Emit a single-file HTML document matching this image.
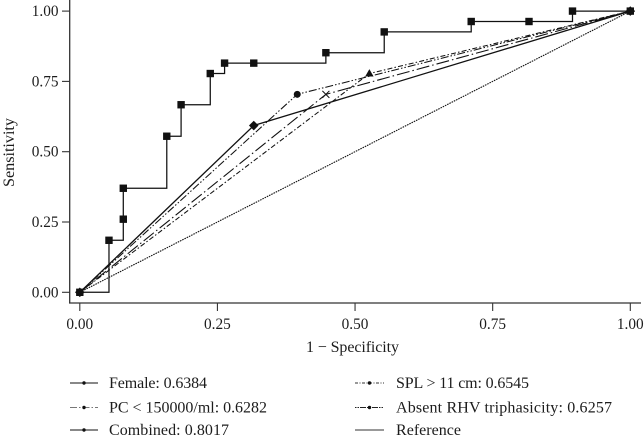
<!DOCTYPE html>
<html>
<head>
<meta charset="utf-8">
<style>
html,body{margin:0;padding:0;background:#fff;}
svg{display:block;}
text{font-family:"Liberation Serif",serif;font-size:15.3px;fill:#1c1c1c;}
</style>
</head>
<body>
<svg id="chart" xmlns="http://www.w3.org/2000/svg" width="644" height="435" viewBox="0 0 644 435">
<rect width="644" height="435" fill="#fff"/>
<g id="axes"></g>
<g id="series"></g>
<text x="14" y="152.5" transform="rotate(-90 14 152.5)" text-anchor="middle" textLength="69" style="font-size:16.2px">Sensitivity</text>
<text x="352.5" y="352" text-anchor="middle" textLength="93" style="font-size:16px">1 − Specificity</text>
<g id="legend"></g>
</svg>
<script>
const tickValues = [0, 0.25, 0.5, 0.75, 1];
const tickLabels = ["0.00", "0.25", "0.50", "0.75", "1.00"];

const referenceX = [0, 1];
const referenceY = [0, 1];
const femaleX = [0, 0.316, 1];
const femaleY = [0, 0.593, 1];
const pcX = [0, 0.447, 1];
const pcY = [0, 0.704, 1];
const splX = [0, 0.395, 1];
const splY = [0, 0.704, 1];
const rhvX = [0, 0.526, 1];
const rhvY = [0, 0.778, 1];
const combinedX = [0, 0.053, 0.053, 0.079, 0.079, 0.079, 0.158, 0.158, 0.184, 0.184, 0.237, 0.237, 0.263, 0.263, 0.316, 0.447, 0.447, 0.553, 0.553, 0.711, 0.711, 0.816, 0.895, 0.895, 1];
const combinedY = [0, 0, 0.185, 0.185, 0.26, 0.37, 0.37, 0.555, 0.555, 0.667, 0.667, 0.778, 0.778, 0.815, 0.815, 0.815, 0.852, 0.852, 0.926, 0.926, 0.963, 0.963, 0.963, 1, 1];
const combinedMarkX = [0, 0.053, 0.079, 0.079, 0.158, 0.184, 0.237, 0.263, 0.316, 0.447, 0.553, 0.711, 0.816, 0.895, 1];
const combinedMarkY = [0, 0.185, 0.26, 0.37, 0.555, 0.667, 0.778, 0.815, 0.815, 0.852, 0.926, 0.963, 0.963, 1, 1];

const legendLeft = ["Female: 0.6384", "PC < 150000/ml: 0.6282", "Combined: 0.8017"];
const legendRight = ["SPL > 11 cm: 0.6545", "Absent RHV triphasicity: 0.6257", "Reference"];

const NS = "http://www.w3.org/2000/svg";
const sx = v => 79.8 + v * 550.5;
const sy = v => 292.3 - v * 281.2;

function mk(parent, tag, attrs, text) {
  const el = document.createElementNS(NS, tag);
  for (const k in attrs) el.setAttribute(k, attrs[k]);
  if (text !== undefined) el.textContent = text;
  parent.appendChild(el);
  return el;
}

const axes = document.getElementById("axes");
const seriesG = document.getElementById("series");
const legend = document.getElementById("legend");
const AX = "#333";

const yAxisLine = mk(axes, "line", {x1: 69.7, y1: 0, x2: 69.7, y2: 303.5, stroke: AX, "stroke-width": 1.3});


const xAxisLine = mk(axes, "line", {x1: 69, y1: 303, x2: 641, y2: 303, stroke: AX, "stroke-width": 1.3});



tickValues.forEach((v, i) => {
  const yt = mk(axes, "line", {x1: 62, x2: 70, y1: sy(v), y2: sy(v), stroke: AX, "stroke-width": 1.1});
  
  
  const yl = mk(axes, "text", {x: 58.5, y: sy(v) + 5, "text-anchor": "end"}, tickLabels[i]);
  
  
  const xt = mk(axes, "line", {x1: sx(v), x2: sx(v), y1: 303, y2: 311, stroke: AX, "stroke-width": 1.1});
  
  
  const xl = mk(axes, "text", {x: sx(v), y: 329, "text-anchor": "middle"}, tickLabels[i]);
  
  
});

function pts(xs, ys) {
  return xs.map((x, i) => sx(x).toFixed(2) + "," + sy(ys[i]).toFixed(2)).join(" ");
}

function marker(parent, kind, cx, cy, s) {
  const c = "#111";
  if (kind === "square") return mk(parent, "rect", {x: cx - 3.7 * s, y: cy - 3.7 * s, width: 7.4 * s, height: 7.4 * s, fill: c});
  if (kind === "circle") return mk(parent, "circle", {cx: cx, cy: cy, r: 3.5 * s, fill: c});
  if (kind === "diamond") return mk(parent, "polygon", {points: `${cx},${cy - 4.8 * s} ${cx + 4.8 * s},${cy} ${cx},${cy + 4.8 * s} ${cx - 4.8 * s},${cy}`, fill: c});
  if (kind === "triangle") return mk(parent, "polygon", {points: `${cx},${cy - 4.4 * s} ${cx + 4.2 * s},${cy + 3 * s} ${cx - 4.2 * s},${cy + 3 * s}`, fill: c});
  if (kind === "cross") return mk(parent, "path", {d: `M${cx - 3.5 * s} ${cy - 3.5 * s}L${cx + 3.5 * s} ${cy + 3.5 * s}M${cx + 3.5 * s} ${cy - 3.5 * s}L${cx - 3.5 * s} ${cy + 3.5 * s}`, stroke: c, "stroke-width": 1, fill: "none"});
}

function drawLine(xs, ys, dash, w) {
  const p = mk(seriesG, "polyline", {points: pts(xs, ys), fill: "none", stroke: "#111", "stroke-width": w, "stroke-dasharray": dash, "stroke-linejoin": "miter"});
  return p;
}

const refLine = drawLine(referenceX, referenceY, "1.6 0.9", 1.1);


const rhvLine = drawLine(rhvX, rhvY, "5 2.2 1.5 2.2", 1.05);


const pcLine = drawLine(pcX, pcY, "13 3 1.5 3", 1.1);


const splLine = drawLine(splX, splY, "8 2 1.5 2 1.5 2", 1.05);


const femaleLine = drawLine(femaleX, femaleY, "none", 1.3);


const combinedLine = drawLine(combinedX, combinedY, "none", 1.25);



function seriesMarks(xs, ys, kind, name) {
  xs.forEach((x, i) => {
    const m = marker(seriesG, kind, sx(x), sy(ys[i]), 1);
    
    
  });
}
seriesMarks(femaleX, femaleY, "diamond", "female-point");
seriesMarks(pcX.slice(1, 2), pcY.slice(1, 2), "cross", "pc-point");
seriesMarks(splX, splY, "circle", "spl-point");
seriesMarks(rhvX.slice(1, 2), rhvY.slice(1, 2), "triangle", "rhv-point");
seriesMarks(combinedMarkX, combinedMarkY, "square", "combined-point");

const rowY = [383, 407.5, 430];
const leftStyles = [["none", "#111"], ["7 2 1.5 2", "#777"], ["none", "#111"]];
const rightStyles = [["3 1.5 1 1.5", "#333"], ["1.5 1 1.5 1 6 1", "#222"], ["none", "#333"]];
const leftWidths = ["98", "158", "120"];
const rightWidths = ["133", "216", "65"];

function legendColumn(labels, styles, widths, x1, x2, tx, hasDot) {
  labels.forEach((label, i) => {
    const y = rowY[i];
    const key = mk(legend, "line", {x1: x1, x2: x2, y1: y, y2: y, stroke: styles[i][1], "stroke-width": 1, "stroke-dasharray": styles[i][0]});
    
    
    if (hasDot[i]) {
      const dot = mk(legend, "circle", {cx: (x1 + x2) / 2, cy: y, r: 1.7, fill: "#111"});
      
      
    }
    const t = mk(legend, "text", {x: tx, y: y + 5, textLength: widths[i], style: "font-size:16px"}, label);
    
    
  });
}
legendColumn(legendLeft, leftStyles, leftWidths, 70, 98, 109, [true, true, true]);
legendColumn(legendRight, rightStyles, rightWidths, 355, 384, 396, [true, true, false]);
</script>
</body>
</html>
